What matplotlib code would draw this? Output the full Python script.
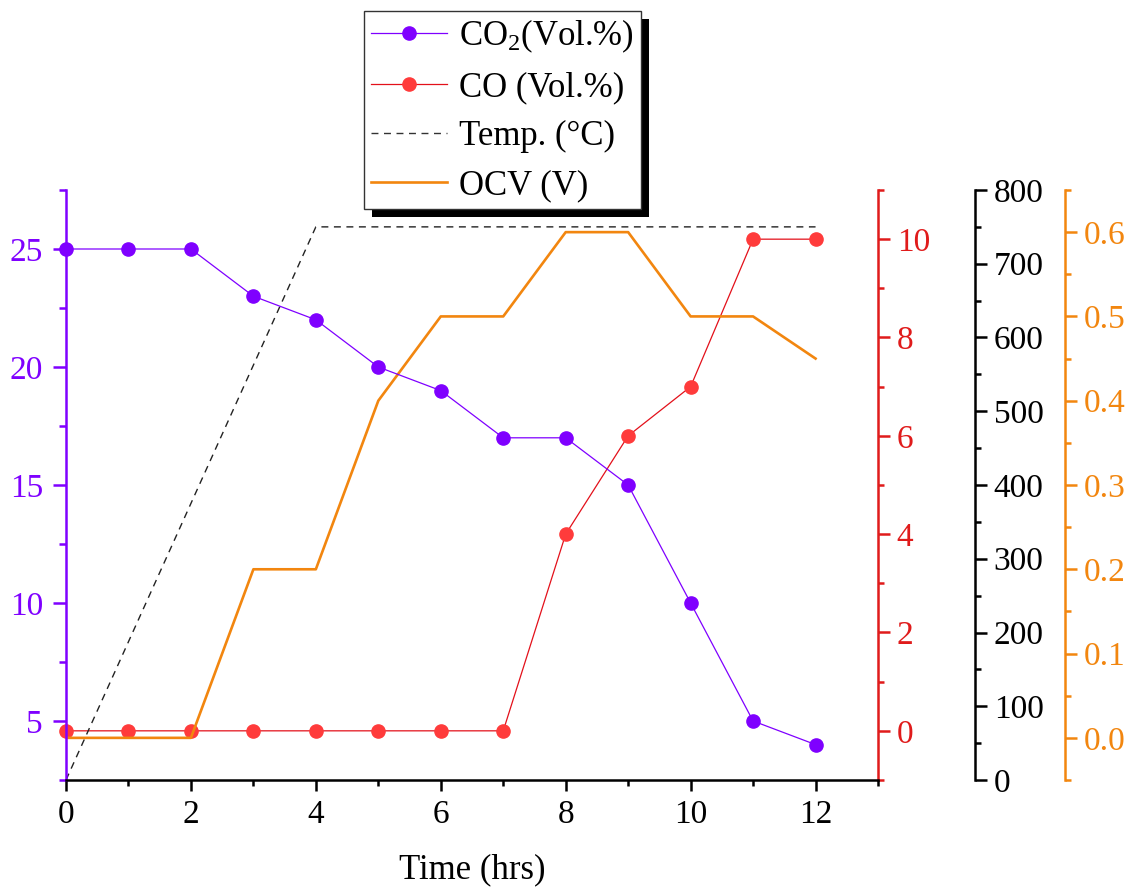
import matplotlib
matplotlib.use("Agg")
import matplotlib.pyplot as plt
from matplotlib.lines import Line2D
from matplotlib.patches import Rectangle
from matplotlib.ticker import MultipleLocator

plt.rcParams['font.family'] = ['Liberation Serif', 'DejaVu Serif']
plt.rcParams['mathtext.fontset'] = 'custom'
plt.rcParams['mathtext.rm'] = 'Liberation Serif'
plt.rcParams['mathtext.it'] = 'Liberation Serif'
plt.rcParams['mathtext.default'] = 'regular'

# ---- data ----
hours = [0, 1, 2, 3, 4, 5, 6, 7, 8, 9, 10, 11, 12]
co2_vol = [25, 25, 25, 23, 22, 20, 19, 17, 17, 15, 10, 5, 4]
co_vol = [0, 0, 0, 0, 0, 0, 0, 0, 4, 6, 7, 10, 10]
temp_hours = [0, 4, 12]
temp_c = [0, 750, 750]
ocv_v = [0.0, 0.0, 0.0, 0.2, 0.2, 0.4, 0.5, 0.5, 0.6, 0.6, 0.5, 0.5, 0.45]

x_ticks = [0, 2, 4, 6, 8, 10, 12]
co2_ticks = [5, 10, 15, 20, 25]
co_ticks = [0, 2, 4, 6, 8, 10]
temp_ticks = [0, 100, 200, 300, 400, 500, 600, 700, 800]
ocv_ticks = [0.0, 0.1, 0.2, 0.3, 0.4, 0.5, 0.6]

PURPLE = '#7F00FF'
RED_MK = '#FF3B3B'
RED_LN = '#E3101A'
RED_AX = '#E01B1B'
ORANGE = '#F2860F'
BLACK = '#000000'

W, H = 1137, 891
fig = plt.figure(figsize=(W / 100, H / 100), dpi=100)
ax = fig.add_axes([66 / W, 111 / H, 812 / W, 590 / H])

ax_co = ax.twinx()
ax_t = ax.twinx()
ax_v = ax.twinx()

SPW = 1.8
FS_TICK = 24
FS_LAB = 25
MAJ_LEN = 8.5
MIN_LEN = 4.5


def style_axis(a, color, side):
    for s in a.spines.values():
        s.set_visible(False)
    sp = a.spines[side]
    sp.set_visible(True)
    sp.set_color(color)
    sp.set_linewidth(SPW)
    a.tick_params(axis='y', which='both', colors=color, direction='out',
                  width=SPW, labelsize=FS_TICK, labelcolor=color, pad=5)
    a.tick_params(axis='y', which='major', length=MAJ_LEN)
    a.tick_params(axis='y', which='minor', length=MIN_LEN)


# main axis: time and CO2
ax.set_xlim(0, 13)
ax.set_ylim(2.5, 27.5)
for s in ['top', 'right']:
    ax.spines[s].set_visible(False)
ax.spines['left'].set_color(PURPLE)
ax.spines['left'].set_linewidth(SPW)
ax.spines['bottom'].set_color(BLACK)
ax.spines['bottom'].set_linewidth(SPW)
ax.set_xticks(x_ticks)
ax.xaxis.set_minor_locator(MultipleLocator(1))
ax.tick_params(axis='x', which='both', direction='out', width=SPW,
               labelsize=FS_TICK, pad=6)
ax.tick_params(axis='x', which='major', length=8)
ax.tick_params(axis='x', which='minor', length=4)
ax.tick_params(axis='y', which='both', colors=PURPLE, direction='out',
               width=SPW, labelsize=FS_TICK, labelcolor=PURPLE, pad=7)
ax.tick_params(axis='y', which='major', length=9.5)
ax.tick_params(axis='y', which='minor', length=5)
ax.set_yticks(co2_ticks)
ax.yaxis.set_minor_locator(MultipleLocator(2.5))
ax.set_xlabel('Time (hrs)', fontsize=FS_LAB, labelpad=17)

# CO axis
ax_co.set_ylim(-1, 11)
style_axis(ax_co, RED_AX, 'right')
ax_co.set_yticks(co_ticks)
ax_co.yaxis.set_minor_locator(MultipleLocator(1))

# temperature axis
ax_t.spines['right'].set_position(('axes', 1 + 97 / 812))
ax_t.set_ylim(0, 800)
style_axis(ax_t, BLACK, 'right')
ax_t.set_yticks(temp_ticks)
ax_t.yaxis.set_minor_locator(MultipleLocator(50))

# OCV axis
ax_v.spines['right'].set_position(('axes', 1 + 187 / 812))
ax_v.set_ylim(-0.05, 0.65)
style_axis(ax_v, ORANGE, 'right')
ax_v.set_yticks(ocv_ticks)
ax_v.set_yticklabels([f'{v:.1f}' for v in ocv_ticks])
ax_v.yaxis.set_minor_locator(MultipleLocator(0.05))

# series
ax_t.plot(temp_hours, temp_c, color='#222222', lw=1.0, ls=(0, (5, 4)))
ax_v.plot(hours, ocv_v, color=ORANGE, lw=1.9)
ax_co.plot(hours, co_vol, color=RED_LN, lw=0.9, marker='o', ms=9.5,
           mfc=RED_MK, mec=RED_MK, clip_on=False, zorder=3)
ax.plot(hours, co2_vol, color=PURPLE, lw=0.9, marker='o', ms=9.5,
        mfc=PURPLE, mec=PURPLE, clip_on=False, zorder=3)
ax.set_zorder(3)
ax.patch.set_visible(False)

# legend
handles = [
    Line2D([], [], color=PURPLE, lw=0.9, marker='o', ms=9.5, mfc=PURPLE, mec=PURPLE),
    Line2D([], [], color=RED_LN, lw=0.9, marker='o', ms=9.5, mfc=RED_MK, mec=RED_MK),
    Line2D([], [], color='#333333', lw=1.0, ls=(0, (5, 4))),
    Line2D([], [], color=ORANGE, lw=1.9),
]
labels = ['CO$_2$(Vol.%)', 'CO (Vol.%)', 'Temp. (°C)', 'OCV (V)']
leg = fig.legend(handles, labels, loc='upper left',
                 bbox_to_anchor=(364 / W, 1 - 11 / H),
                 fontsize=FS_LAB, frameon=True, fancybox=False,
                 edgecolor='#333333', framealpha=1, borderaxespad=0,
                 handlelength=2.2, handletextpad=0.35, labelspacing=0.46,
                 borderpad=0.2)
leg.get_frame().set_linewidth(1.0)
leg.set_zorder(6)

fig.canvas.draw()
bb = leg.get_window_extent()
off = 8
shadow = Rectangle(((bb.x0 + off) / W, (bb.y0 - off) / H), bb.width / W, bb.height / H,
                   transform=fig.transFigure, facecolor='black', edgecolor='none',
                   zorder=5.5)
fig.patches.append(shadow)

fig.savefig('out.png', dpi=100, facecolor='white')
